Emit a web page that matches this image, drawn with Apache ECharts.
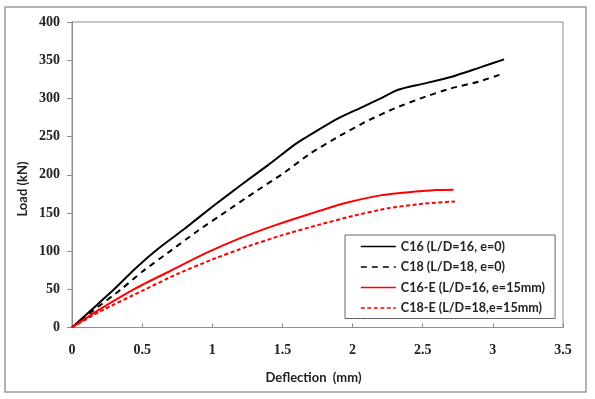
<!DOCTYPE html>
<html lang="en">
<head>
	<meta charset="UTF-8">
	<title>Load - Deflection</title>
	<style>
		html, body { margin: 0; padding: 0; background: #fff; }
	</style>
</head>
<body>
	<div id="main" style="width: 595px;height:399px;"></div>
</body>
<script type="text/javascript" src="https://cdn.jsdelivr.net/npm/echarts@6/dist/echarts.min.js"></script>
<script type="text/javascript">
        // 数据
        var names = ['C16 (L/D=16, e=0)', 'C18 (L/D=18, e=0)', 'C16-E (L/D=16, e=15mm)', 'C18-E (L/D=18,e=15mm)'];

        var c16X = [0, 0.15, 0.3, 0.45, 0.62, 0.8, 1.0, 1.2, 1.4, 1.6, 1.75, 1.9, 2.05, 2.2, 2.32, 2.5, 2.7, 2.9, 3.08];
        var c16Y = [0, 25, 50, 77, 104, 129, 158, 186, 213, 241, 258, 274, 287, 300, 311, 319, 328, 340, 351];

        var c18X = [0, 0.15, 0.35, 0.5, 0.7, 0.9, 1.1, 1.3, 1.5, 1.7, 1.9, 2.1, 2.3, 2.5, 2.7, 2.9, 3.05];
        var c18Y = [0, 22, 50, 73, 100, 127, 152, 177, 201, 228, 250, 270, 287, 301, 313, 322, 331];

        var c16eX = [0, 0.2, 0.45, 0.7, 0.95, 1.2, 1.45, 1.7, 1.95, 2.2, 2.45, 2.6, 2.72];
        var c16eY = [0, 24, 51, 74, 97, 117, 134, 149, 163, 173, 178, 180, 180.5];

        var c18eX = [0, 0.2, 0.5, 0.75, 1.0, 1.25, 1.5, 1.75, 2.0, 2.25, 2.5, 2.73];
        var c18eY = [0, 21, 48, 70, 89, 106, 121, 134, 146, 156, 162, 165];

        var xTicks = { min: 0, max: 3.5, step: 0.5 };
        var yTicks = { min: 0, max: 400, step: 50 };

        function pairs(xs, ys) {
            var out = [];
            for (var i = 0; i < xs.length; i++) {
                out.push([xs[i], ys[i]]);
            }
            return out;
        }

        var labelFont = { fontFamily: 'Liberation Serif', fontWeight: 'bold', fontSize: 14, color: '#222' };
        var nameFont = { fontFamily: 'Lato', fontWeight: 'bold', fontSize: 13, color: '#222' };

        var myChart = echarts.init(document.getElementById('main'));

        myChart.setOption({
            animation: false,
            graphic: [{
                type: 'rect',
                shape: { x: 5, y: 7, width: 581, height: 385 },
                style: { fill: 'none', stroke: '#9a9a9a', lineWidth: 1.5 },
                silent: true
            }, {
                // y 轴标题, 原图中略偏下
                type: 'text',
                x: 23, y: 189,
                rotation: Math.PI / 2,
                style: {
                    text: 'Load (kN)',
                    align: 'center', verticalAlign: 'middle',
                    fontFamily: 'Lato', fontWeight: 'bold', fontSize: 13, fill: '#222'
                },
                silent: true
            }],
            grid: {
                left: 72, top: 22, right: 32, bottom: 71.5,
                show: true, borderColor: '#8c8c8c', borderWidth: 1
            },
            legend: {
                data: names,
                orient: 'vertical',
                left: 345, top: 235,
                padding: [5, 10, 4, 15],
                itemWidth: 35, itemHeight: 14, itemGap: 7.5,
                backgroundColor: '#fff',
                borderColor: '#666', borderWidth: 1,
                itemStyle: { opacity: 0 },
                lineStyle: { width: 1.6 },
                textStyle: { fontFamily: 'Lato', fontWeight: 'bold', fontSize: 12.6, color: '#222' }
            },
            xAxis: {
                type: 'value',
                min: xTicks.min, max: xTicks.max, interval: xTicks.step,
                name: 'Deflection  (mm)',
                nameLocation: 'middle', nameGap: 44,
                nameTextStyle: Object.assign({ padding: [0, 8, 0, 0] }, nameFont),
                axisLine: { lineStyle: { color: '#8c8c8c' } },
                axisTick: { inside: true, length: 4, lineStyle: { color: '#8c8c8c' } },
                axisLabel: Object.assign({ margin: 16 }, labelFont),
                splitLine: { show: false }
            },
            yAxis: {
                type: 'value',
                min: yTicks.min, max: yTicks.max, interval: yTicks.step,
                axisLine: { show: true, lineStyle: { color: '#8c8c8c' } },
                axisTick: { show: true, length: 5, lineStyle: { color: '#8c8c8c' } },
                axisLabel: Object.assign({ margin: 12 }, labelFont),
                splitLine: { show: false }
            },
            series: [{
                name: names[0], type: 'line', symbol: 'none', smooth: 0.2,
                data: pairs(c16X, c16Y),
                lineStyle: { color: '#000', width: 2 },
                itemStyle: { color: '#000' }
            }, {
                name: names[1], type: 'line', symbol: 'none', smooth: 0.2,
                data: pairs(c18X, c18Y),
                lineStyle: { color: '#000', width: 2, type: [6, 5] },
                itemStyle: { color: '#000' }
            }, {
                name: names[2], type: 'line', symbol: 'none', smooth: 0.2,
                data: pairs(c16eX, c16eY),
                lineStyle: { color: '#f00', width: 2 },
                itemStyle: { color: '#f00' }
            }, {
                name: names[3], type: 'line', symbol: 'none', smooth: 0.2,
                data: pairs(c18eX, c18eY),
                lineStyle: { color: '#f00', width: 2, type: [4, 2.5] },
                itemStyle: { color: '#f00' }
            }]
        });
    </script>
</html>
